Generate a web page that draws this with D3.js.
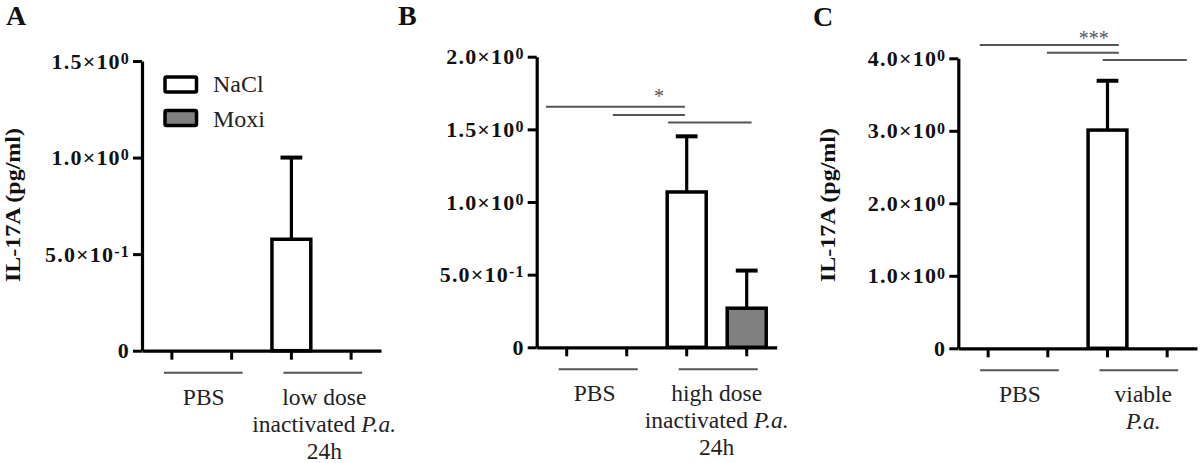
<!DOCTYPE html>
<html><head><meta charset="utf-8">
<script src="https://cdn.jsdelivr.net/npm/d3@7"></script>
<style>
body{margin:0;background:#fff}
svg{display:block}
svg text{font-family:'Liberation Serif','Times New Roman','DejaVu Serif',serif !important}
</style>
</head><body><svg id="chart" width="1200" height="463" font-family="'Liberation Serif','Times New Roman','DejaVu Serif',serif"></svg>
<script>
// ---------- data ----------
const positions = ["PBS_NaCl", "PBS_Moxi", "Treat_NaCl", "Treat_Moxi"];
const posSeries = ["NaCl", "Moxi", "NaCl", "Moxi"];
const seriesNames = ["NaCl", "Moxi"];

const meanA = [0, 0, 0.577, 0];
const semA  = [0, 0, 0.423, 0];
const meanB = [0, 0, 1.069, 0.269];
const semB  = [0, 0, 0.383, 0.259];
const meanC = [0, 0, 3.01, 0];
const semC  = [0, 0, 0.68, 0];

const yTicksA = [0, 0.5, 1.0, 1.5];
const yTickLabelsA = [["0", ""], ["5.0×10", "-1"], ["1.0×10", "0"], ["1.5×10", "0"]];
const yTicksB = [0, 0.5, 1.0, 1.5, 2.0];
const yTickLabelsB = [["0", ""], ["5.0×10", "-1"], ["1.0×10", "0"], ["1.5×10", "0"], ["2.0×10", "0"]];
const yTicksC = [0, 1, 2, 3, 4];
const yTickLabelsC = [["0", ""], ["1.0×10", "0"], ["2.0×10", "0"], ["3.0×10", "0"], ["4.0×10", "0"]];

// group labels: lines of [text, italic] segments
const groupLabelsA = [[[["PBS", false]]], [[["low dose", false]], [["inactivated ", false], ["P.a.", true]], [["24h", false]]]];
const groupLabelsB = [[[["PBS", false]]], [[["high dose", false]], [["inactivated ", false], ["P.a.", true]], [["24h", false]]]];
const groupLabelsC = [[[["PBS", false]]], [[["viable", false]], [["P.a.", true]]]];

// significance lines: [from index, to index, value]
const sigLinesB = [[-0.345, 1.97, 1.656], [0.767, 1.97, 1.599], [1.69, 3.08, 1.547]];
const sigStarB = {text: "*", at: 1.54, value: 1.748};
const sigLinesC = [[-0.14, 2.19, 4.183], [0.985, 2.19, 4.077], [1.92, 3.33, 3.977]];
const sigStarC = {text: "***", at: 1.77, value: 4.32};

const yTitle = "IL-17A (pg/ml)";

// ---------- layout ----------
const FONT = "'Liberation Serif','Times New Roman','DejaVu Serif',serif";
const svg = d3.select("#chart");
const color = d3.scaleOrdinal().domain(seriesNames).range(["#ffffff", "#808080"]);

const panels = [
  {title: "A", tx: 6, ty: 25, left: 142, right: 381, y0: 350.7, yTop: 61, max: 1.5,
   ticks: yTicksA, tickLabels: yTickLabelsA, mean: meanA, sem: semA, groups: groupLabelsA,
   ylabel: {x: 19.5, y: 205}, legend: true, grpOff: [2, 3]},
  {title: "B", tx: 398, ty: 25, left: 536.7, right: 776.7, y0: 347.3, yTop: 56.7, max: 2.0,
   ticks: yTicksB, tickLabels: yTickLabelsB, mean: meanB, sem: semB, groups: groupLabelsB,
   sig: sigLinesB, star: sigStarB, grpOff: [-2, 0]},
  {title: "C", tx: 813, ty: 26, left: 958.3, right: 1197, y0: 348.3, yTop: 58.3, max: 4.0,
   ticks: yTicksC, tickLabels: yTickLabelsC, mean: meanC, sem: semC, groups: groupLabelsC,
   sig: sigLinesC, star: sigStarC, ylabel: {x: 835, y: 205}, grpOff: [2, 6]}
];

panels.forEach(p => {
  const g = svg.append("g").attr("font-family", FONT);
  const x = d3.scaleBand().domain(positions).range([p.left, p.right]).padding(0);
  const step = x.step();
  const xc = i => p.left + step / 2 + i * step;
  const y = d3.scaleLinear().domain([0, p.max]).range([p.y0, p.yTop]);
  const bw = step * 0.65;

  // title
  g.append("text").attr("x", p.tx).attr("y", p.ty).attr("font-size", 28).attr("font-weight", "bold").attr("fill", "#111").text(p.title);

  // y label
  if (p.ylabel) {
    g.append("text").attr("transform", `translate(${p.ylabel.x},${p.ylabel.y}) rotate(-90)`)
      .attr("text-anchor", "middle").attr("font-size", 22).attr("font-weight", "bold").attr("fill", "#111")
      .attr("textLength", 154).attr("lengthAdjust", "spacingAndGlyphs").text(yTitle);
  }

  // bars
  const data = positions.map((k, i) => ({k, i, s: posSeries[i], m: p.mean[i], e: p.sem[i]})).filter(d => d.m > 0);
  g.selectAll("rect.bar").data(data).join("rect").attr("class", "bar")
    .attr("x", d => x(d.k) + (step - bw) / 2).attr("width", bw)
    .attr("y", d => y(d.m)).attr("height", d => y(0) - y(d.m))
    .attr("fill", d => color(d.s)).attr("stroke", "#000").attr("stroke-width", 3.5);
  // error bars
  g.selectAll("line.err").data(data).join("line").attr("class", "err")
    .attr("x1", d => x(d.k) + step / 2).attr("x2", d => x(d.k) + step / 2)
    .attr("y1", d => y(d.m)).attr("y2", d => y(d.m + d.e))
    .attr("stroke", "#000").attr("stroke-width", 3.2);
  g.selectAll("line.cap").data(data).join("line").attr("class", "cap")
    .attr("x1", d => x(d.k) + step / 2 - bw * 0.28).attr("x2", d => x(d.k) + step / 2 + bw * 0.28)
    .attr("y1", d => y(d.m + d.e)).attr("y2", d => y(d.m + d.e))
    .attr("stroke", "#000").attr("stroke-width", 4);

  // y axis
  const ya = g.append("g").attr("transform", `translate(${p.left},0)`)
    .call(d3.axisLeft(y).tickValues(p.ticks).tickSize(9).tickSizeOuter(0).tickPadding(3).tickFormat(() => ""));
  ya.attr("font-family", FONT);
  ya.select(".domain").attr("stroke-width", 3.2);
  ya.selectAll(".tick line").attr("stroke-width", 3);
  ya.selectAll(".tick text").each(function(d, i) {
    const t = d3.select(this).attr("font-size", 22).attr("font-weight", "bold").attr("fill", "#111")
      .attr("letter-spacing", "1.2px");
    const lab = p.tickLabels[i];
    t.append("tspan").text(lab[0]);
    if (lab[1]) t.append("tspan").attr("font-size", 16).attr("dy", "-0.3em").text(lab[1]);
  });

  // x axis
  const xa = g.append("g").attr("transform", `translate(0,${p.y0})`)
    .call(d3.axisBottom(x).tickSize(9).tickSizeOuter(0).tickFormat(() => ""));
  xa.select(".domain").attr("stroke-width", 3.2);
  xa.selectAll(".tick line").attr("stroke-width", 3);

  // group lines and labels
  [0, 1].forEach(gi => {
    const a = xc(gi * 2), b = xc(gi * 2 + 1);
    g.append("line").attr("x1", a - 8).attr("x2", b + 11)
      .attr("y1", p.y0 + 22).attr("y2", p.y0 + 22).attr("stroke", "#555").attr("stroke-width", 2);
    const cx = (a + b) / 2 + p.grpOff[gi];
    p.groups[gi].forEach((line, li) => {
      const t = g.append("text").attr("x", cx).attr("y", p.y0 + 54 + li * 27)
        .attr("text-anchor", "middle").attr("font-size", 23.5).attr("fill", "#222");
      line.forEach(seg => t.append("tspan").attr("font-style", seg[1] ? "italic" : "normal").text(seg[0]));
    });
  });

  // significance
  if (p.sig) {
    g.selectAll("line.sig").data(p.sig).join("line").attr("class", "sig")
      .attr("x1", d => xc(d[0])).attr("x2", d => xc(d[1]))
      .attr("y1", d => y(d[2])).attr("y2", d => y(d[2]))
      .attr("stroke", "#555").attr("stroke-width", 2);
    g.append("text").attr("x", xc(p.star.at)).attr("y", y(p.star.value) + 10)
      .attr("text-anchor", "middle").attr("font-size", 20).attr("fill", "#555").text(p.star.text);
  }

  // legend
  if (p.legend) {
    seriesNames.forEach((s, si) => {
      g.append("rect").attr("x", 165).attr("y", 77 + si * 33.5).attr("width", 31.5).attr("height", 15)
        .attr("fill", color(s)).attr("stroke", "#000").attr("stroke-width", 3.5).attr("rx", 1.5);
      g.append("text").attr("x", 213).attr("y", 92.3 + si * 35).attr("font-size", 24).attr("fill", "#222").text(s);
    });
  }
});
</script>
</body></html>
